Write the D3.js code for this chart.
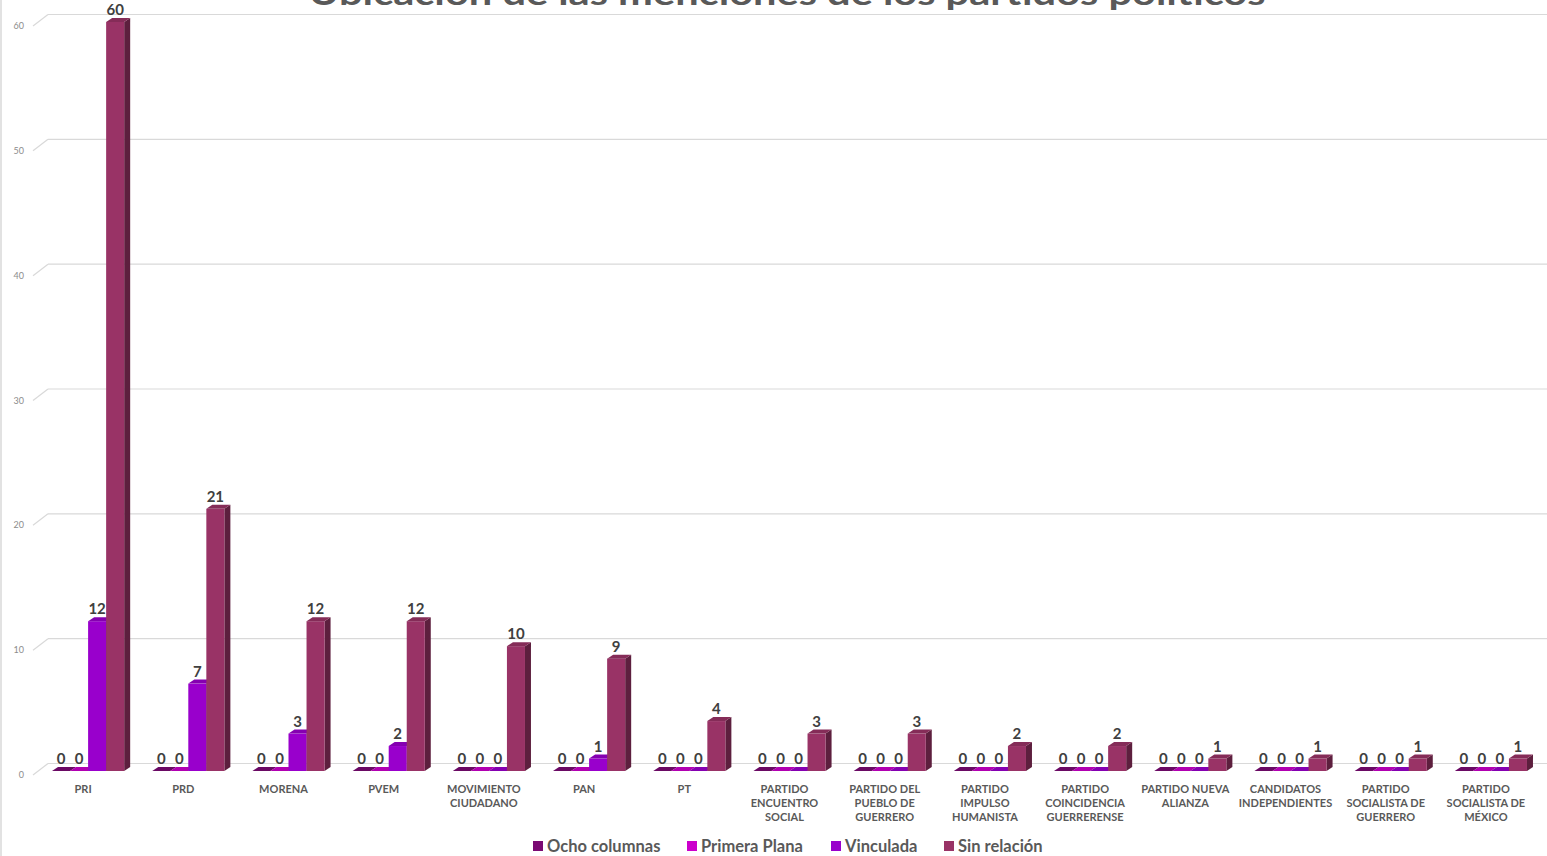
<!DOCTYPE html>
<meta charset="utf-8">
<script src="https://d3js.org/d3.v7.min.js"></script>
<style>
  body { margin: 0; background: #fff; }
  text { font-family: Lato, "Open Sans", sans-serif; }
</style>
<body>
<div id="my_dataviz"></div>
<script>

// data
var categories = ["PRI", "PRD", "MORENA", "PVEM", "MOVIMIENTO|CIUDADANO", "PAN", "PT",
  "PARTIDO|ENCUENTRO|SOCIAL", "PARTIDO DEL|PUEBLO DE|GUERRERO", "PARTIDO|IMPULSO|HUMANISTA",
  "PARTIDO|COINCIDENCIA|GUERRERENSE", "PARTIDO NUEVA|ALIANZA", "CANDIDATOS|INDEPENDIENTES",
  "PARTIDO|SOCIALISTA DE|GUERRERO", "PARTIDO|SOCIALISTA DE|MÉXICO"];
var seriesNames = ["Ocho columnas", "Primera Plana", "Vinculada", "Sin relación"];
var seriesColors = ["#7a0a73", "#cc00cc", "#9900cc", "#993366"];
var ochoColumnas = [0, 0, 0, 0, 0, 0, 0, 0, 0, 0, 0, 0, 0, 0, 0];
var primeraPlana = [0, 0, 0, 0, 0, 0, 0, 0, 0, 0, 0, 0, 0, 0, 0];
var vinculada    = [12, 7, 3, 2, 0, 1, 0, 0, 0, 0, 0, 0, 0, 0, 0];
var sinRelacion  = [60, 21, 12, 12, 10, 9, 4, 3, 3, 2, 2, 1, 1, 1, 1];
var yTicks = [0, 10, 20, 30, 40, 50, 60];
var title = "Ubicación de las menciones de los partidos políticos";

var allSeries = [ochoColumnas, primeraPlana, vinculada, sinRelacion];

var width = 1547, height = 856;
var dx = 6, dy = -4; // bar depth

var svg = d3.select("#my_dataviz")
  .append("svg")
    .attr("width", width)
    .attr("height", height);

// left border
svg.append("line")
    .attr("x1", 1).attr("x2", 1).attr("y1", 0).attr("y2", height)
    .style("stroke", "#d9d9d9").style("stroke-width", 1.5);

var y = d3.scaleLinear()
    .domain([0, 60])
    .range([771, 22]);

var x = d3.scaleBand()
    .domain(d3.range(categories.length))
    .range([38, 1541])
    .paddingInner(0.28)
    .paddingOuter(0.14);

var xs = d3.scaleBand()
    .domain(d3.range(seriesNames.length))
    .range([0, x.bandwidth()]);

// gridlines (back wall) + diagonal ticks
var grid = svg.append("g");
yTicks.forEach(function(t) {
  grid.append("line")
      .attr("x1", 48).attr("x2", width)
      .attr("y1", y(t) - 7.5).attr("y2", y(t) - 7.5)
      .style("stroke", "#d9d9d9").style("stroke-width", 1.2);
  grid.append("line")
      .attr("x1", 33).attr("x2", 48)
      .attr("y1", y(t) + 4).attr("y2", y(t) - 7.5)
      .style("stroke", "#d9d9d9").style("stroke-width", 1.2);
  grid.append("text")
      .attr("x", 24)
      .attr("y", y(t) + 4)
      .attr("dy", "0.35em")
      .attr("text-anchor", "end")
      .style("font-size", "9px")
      .style("fill", "#8c8c8c")
      .text(t);
});

// bars
var bars = svg.append("g");
categories.forEach(function(c, i) {
  allSeries.forEach(function(vals, s) {
    var v = vals[i];
    var x0 = x(i) + xs(s), w = xs.bandwidth();
    var yt = y(v), yb = y(0);
    var col = d3.color(seriesColors[s]);
    var g = bars.append("g");
    // side
    g.append("path")
        .attr("d", "M" + (x0 + w) + "," + yb + "L" + (x0 + w + dx) + "," + (yb + dy) +
             "L" + (x0 + w + dx) + "," + (yt + dy) + "L" + (x0 + w) + "," + yt + "Z")
        .style("fill", col.darker(1.4));
    // front
    g.append("rect")
        .attr("x", x0).attr("y", yt)
        .attr("width", w).attr("height", yb - yt)
        .style("fill", col);
    // top
    g.append("path")
        .attr("d", "M" + x0 + "," + yt + "L" + (x0 + w) + "," + yt +
             "L" + (x0 + w + dx) + "," + (yt + dy) + "L" + (x0 + dx) + "," + (yt + dy) + "Z")
        .style("fill", col.darker(0.4));
  });
});

// value labels
var labels = svg.append("g");
categories.forEach(function(c, i) {
  allSeries.forEach(function(vals, s) {
    labels.append("text")
        .attr("x", x(i) + xs(s) + xs.bandwidth() / 2)
        .attr("y", y(vals[i]) - 7)
        .attr("text-anchor", "middle")
        .style("font-size", "15px")
        .style("font-weight", "bold")
        .style("fill", "#404040")
        .text(vals[i]);
  });
});

// category labels
categories.forEach(function(c, i) {
  var t = svg.append("text")
      .attr("x", x(i) + x.bandwidth() / 2 - 5)
      .attr("y", 793)
      .attr("text-anchor", "middle")
      .style("font-size", "11px")
      .style("font-weight", "bold")
      .style("fill", "#595959");
  c.split("|").forEach(function(line, k) {
    t.append("tspan")
        .attr("x", x(i) + x.bandwidth() / 2 - 5)
        .attr("dy", k === 0 ? 0 : 14)
        .text(line);
  });
});

// title (cut off at top, like the original)
svg.append("text")
    .attr("x", 787)
    .attr("y", 5)
    .attr("text-anchor", "middle")
    .attr("textLength", 957)
    .attr("lengthAdjust", "spacingAndGlyphs")
    .style("font-size", "32px")
    .style("font-weight", "bold")
    .style("fill", "#595959")
    .text(title);

// legend
var legend = svg.append("g");
var starts = [533, 687, 831, 944];
seriesNames.forEach(function(n, s) {
  var item = legend.append("g").attr("transform", "translate(" + starts[s] + ",0)");
  item.append("rect")
      .attr("x", 0).attr("y", 841)
      .attr("width", 10).attr("height", 10)
      .style("fill", seriesColors[s]);
  item.append("text")
      .attr("x", 14).attr("y", 846)
      .attr("dy", "0.35em")
      .style("font-size", "16.5px")
      .style("font-weight", "bold")
      .style("fill", "#595959")
      .text(n);
});

</script>
</body>
